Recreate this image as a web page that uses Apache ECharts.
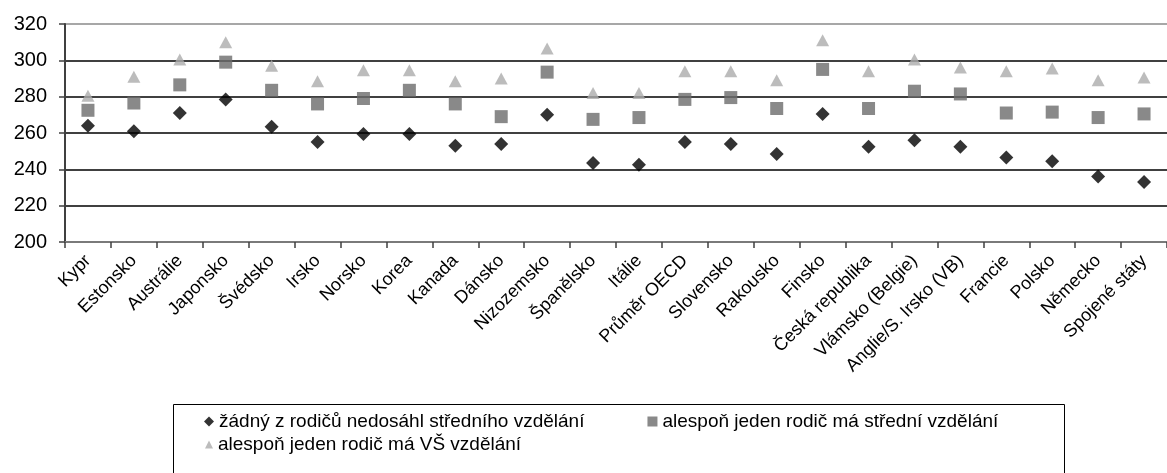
<!DOCTYPE html>
<html>
<head>
<meta charset="utf-8">
<script src="https://cdn.jsdelivr.net/npm/echarts@6/dist/echarts.min.js"></script>
<style>
  html, body { margin: 0; padding: 0; background: #fff; }
  #chart { width: 1167px; height: 473px; }
</style>
</head>
<body>
<div id="chart"></div>
<script>
// Countries / regions along the horizontal axis
const categories = ['Kypr', 'Estonsko', 'Austrálie', 'Japonsko', 'Švédsko', 'Irsko', 'Norsko', 'Korea',
  'Kanada', 'Dánsko', 'Nizozemsko', 'Španělsko', 'Itálie', 'Průměr OECD', 'Slovensko', 'Rakousko',
  'Finsko', 'Česká republika', 'Vlámsko (Belgie)', 'Anglie/S. Irsko (VB)', 'Francie', 'Polsko',
  'Německo', 'Spojené státy'];

// Series names
const nameNone = 'žádný z rodičů nedosáhl středního vzdělání';
const nameSecondary = 'alespoň jeden rodič má střední vzdělání';
const nameTertiary = 'alespoň jeden rodič má VŠ vzdělání';

// Scores by parental education
const scoresNone = [264, 261, 271, 278.5, 263.5, 255, 259.5, 259.5, 253, 254, 270, 243.5, 242.5, 255, 254, 248.5,
  270.5, 252.5, 256, 252.5, 246.5, 244.5, 236, 233];
const scoresSecondary = [272.5, 276.5, 286.5, 299, 283.5, 276, 279, 283.5, 276, 269, 293.5, 267.5, 268.5, 278.5,
  279.5, 273.5, 295, 273.5, 283, 281.5, 271, 271.5, 268.5, 270.5];
const scoresTertiary = [280.5, 291, 300.5, 310, 297, 288.5, 294.5, 294.5, 288.5, 290, 306.5, 282, 282, 294,
  294, 289, 311, 294, 300.5, 296, 294, 295.5, 289, 290.5];

// Value axis range
const yMin = 200;
const yMax = 320;
const yStep = 20;

const FONT = '"Liberation Sans", Arial, sans-serif';

const chart = echarts.init(document.getElementById('chart'));

chart.setOption({
  animation: false,
  backgroundColor: '#ffffff',
  grid: { left: 65, top: 24, right: -6, bottom: 231, containLabel: false },
  legend: [
    {
      data: [
        { name: nameNone, icon: 'diamond' },
        { name: nameSecondary, icon: 'rect' }
      ],
      left: 199, top: 407, orient: 'horizontal', itemGap: 63,
      itemWidth: 10, itemHeight: 10, selectedMode: false,
      textStyle: { fontFamily: FONT, fontSize: 19, color: '#000' }
    },
    {
      data: [{ name: nameTertiary, icon: 'triangle' }],
      left: 200, top: 430, itemWidth: 8, itemHeight: 8, selectedMode: false,
      textStyle: { fontFamily: FONT, fontSize: 19, color: '#000' }
    }
  ],
  graphic: [
    {
      type: 'rect',
      shape: { x: 173.5, y: 404.5, width: 891, height: 120 },
      style: { fill: 'none', stroke: '#000', lineWidth: 1 },
      silent: true
    }
  ],
  xAxis: {
    type: 'category',
    data: categories,
    boundaryGap: true,
    axisLine: { show: true, lineStyle: { color: '#7a7a7a', width: 2 } },
    axisTick: { show: true, alignWithLabel: false, length: 6, lineStyle: { color: '#404040', width: 1.5 } },
    axisLabel: {
      interval: 0, rotate: 45, margin: 16,
      fontFamily: FONT, fontSize: 18, color: '#000'
    },
    splitLine: { show: false }
  },
  yAxis: {
    type: 'value',
    min: yMin, max: yMax, interval: yStep,
    axisLine: { show: true, lineStyle: { color: '#404040', width: 2 } },
    axisTick: { show: true, length: 6, lineStyle: { color: '#404040', width: 1.5 } },
    axisLabel: { margin: 18, fontFamily: FONT, fontSize: 20, color: '#000' },
    splitLine: {
      show: true,
      lineStyle: { color: ['#000', '#000', '#000', '#000', '#000', '#000', '#8a8a8a'], width: 1.5 }
    }
  },
  series: [
    {
      name: nameNone, type: 'scatter', data: scoresNone,
      symbol: 'diamond', symbolSize: [14, 14],
      itemStyle: { color: '#000000' }, z: 4
    },
    {
      name: nameSecondary, type: 'scatter', data: scoresSecondary,
      symbol: 'rect', symbolSize: [13, 13],
      itemStyle: { color: '#6b6b6b' }, z: 3
    },
    {
      name: nameTertiary, type: 'scatter', data: scoresTertiary,
      symbol: 'triangle', symbolSize: [13, 12],
      itemStyle: { color: '#ababab' }, z: 2
    }
  ]
});
</script>
</body>
</html>
